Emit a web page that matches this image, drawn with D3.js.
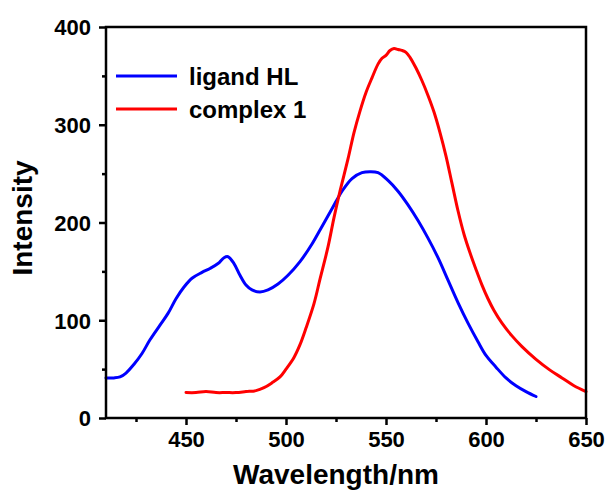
<!DOCTYPE html>
<html>
<head>
<meta charset="utf-8">
<script src="https://cdn.jsdelivr.net/npm/d3@7"></script>
<style>
  html, body { margin: 0; padding: 0; background: #fff; }
  svg { display: block; font-family: "Liberation Sans", Arial, sans-serif; font-weight: bold; }
</style>
</head>
<body>
<svg id="chart" width="609" height="491"></svg>
<script>
// Emission spectra: ligand HL and complex 1
const hlWavelength = [410, 414, 417, 420, 424, 428, 432, 437, 441, 445, 449, 453, 458, 462, 466, 469, 471, 474, 477, 480, 483, 487, 491, 496, 501, 507, 513, 518, 523, 528, 533, 538, 542, 546, 551, 556, 561, 566, 571, 576, 581, 586, 591, 596, 600, 605, 610, 615, 620, 625];
const hlIntensity  = [41, 41, 42, 46, 55, 66, 80, 95, 107, 122, 134, 143, 149, 153, 158, 164, 165, 158, 146, 136, 131, 129, 131, 137, 146, 160, 178, 196, 214, 232, 245, 251, 252, 251, 243, 232, 218, 202, 184, 164, 141, 118, 97, 78, 64, 52, 41, 33, 27, 22];

const c1Wavelength = [450, 455, 460, 465, 470, 475, 480, 485, 489, 493, 497, 500, 504, 507, 510, 514, 517, 521, 524, 527, 531, 534, 537, 540, 543, 546, 548, 550, 552, 554, 556, 558, 560, 562, 565, 568, 571, 574, 577, 580, 583, 586, 589, 592, 595, 598, 601, 604, 608, 613, 618, 625, 632, 638, 644, 650];
const c1Intensity  = [26, 26, 27, 26, 26, 26, 27, 28, 31, 36, 42, 50, 62, 75, 92, 117, 142, 175, 205, 232, 265, 292, 314, 333, 348, 362, 368, 371, 376, 378, 377, 376, 374, 369, 358, 345, 330, 313, 292, 268, 240, 212, 188, 169, 152, 136, 122, 110, 97, 84, 73, 60, 49, 41, 33, 27];

const xMajorTicks = [450, 500, 550, 600, 650];
const xMinorTicks = [425, 475, 525, 575, 625];
const yMajorTicks = [0, 100, 200, 300, 400];
const yMinorTicks = [50, 150, 250, 350];

const seriesNames = ["ligand HL", "complex 1"];
const seriesColors = ["#0000ff", "#ff0000"];

const svg = d3.select("#chart");
const plot = { left: 106, right: 586, top: 27, bottom: 418 };

const x = d3.scaleLinear().domain([410, 650]).range([plot.left, plot.right]);
const y = d3.scaleLinear().domain([0, 400]).range([plot.bottom, plot.top]);

const series = [
  { name: seriesNames[0], color: seriesColors[0], pts: hlWavelength.map((w, i) => [w, hlIntensity[i]]) },
  { name: seriesNames[1], color: seriesColors[1], pts: c1Wavelength.map((w, i) => [w, c1Intensity[i]]) }
];

const line = d3.line()
  .x(d => x(d[0]))
  .y(d => y(d[1]))
  .curve(d3.curveCatmullRom.alpha(0.5));

// curves
svg.append("g").selectAll("path")
  .data(series)
  .join("path")
  .attr("d", d => line(d.pts))
  .attr("fill", "none")
  .attr("stroke", d => d.color)
  .attr("stroke-width", 3)
  .attr("stroke-linejoin", "round")
  .attr("stroke-linecap", "round");

// axes
const xAxis = svg.append("g")
  .attr("transform", `translate(0,${plot.bottom})`)
  .call(d3.axisBottom(x).tickValues(xMajorTicks).tickSize(7).tickSizeOuter(0).tickPadding(6).tickFormat(d3.format("d")));
const xMinor = svg.append("g")
  .attr("transform", `translate(0,${plot.bottom})`)
  .call(d3.axisBottom(x).tickValues(xMinorTicks).tickSize(4).tickSizeOuter(0).tickFormat(""));
const yAxis = svg.append("g")
  .attr("transform", `translate(${plot.left},0)`)
  .call(d3.axisLeft(y).tickValues(yMajorTicks).tickSize(7).tickSizeOuter(0).tickPadding(8).tickFormat(d3.format("d")));
const yMinor = svg.append("g")
  .attr("transform", `translate(${plot.left},0)`)
  .call(d3.axisLeft(y).tickValues(yMinorTicks).tickSize(4).tickSizeOuter(0).tickFormat(""));

[xAxis, xMinor, yAxis, yMinor].forEach(g => {
  g.select(".domain").remove();
  g.selectAll(".tick line").attr("stroke", "#000").attr("stroke-width", 2.5);
  g.selectAll(".tick text")
    .attr("fill", "#000")
    .style("font-family", "'Liberation Sans', Arial, sans-serif")
    .style("font-weight", "bold")
    .style("font-size", "22px");
});
yAxis.selectAll(".tick text").attr("dy", "0.36em");

// frame
svg.append("rect")
  .attr("x", plot.left)
  .attr("y", plot.top)
  .attr("width", plot.right - plot.left)
  .attr("height", plot.bottom - plot.top)
  .attr("fill", "none")
  .attr("stroke", "#000")
  .attr("stroke-width", 2.5);

// axis titles
svg.append("text")
  .attr("x", 336)
  .attr("y", 484)
  .attr("text-anchor", "middle")
  .style("font-size", "28px")
  .text("Wavelength/nm");

svg.append("text")
  .attr("transform", `translate(32,218) rotate(-90)`)
  .attr("text-anchor", "middle")
  .style("font-size", "28px")
  .text("Intensity");

// legend
const legendY = [76, 109];
const legend = svg.append("g").selectAll("g")
  .data(series)
  .join("g")
  .attr("transform", (d, i) => `translate(116,${legendY[i]})`);
legend.append("line")
  .attr("x1", 0).attr("x2", 61)
  .attr("y1", 0).attr("y2", 0)
  .attr("stroke", d => d.color)
  .attr("stroke-width", 3);
legend.append("text")
  .attr("x", 73)
  .attr("y", 9)
  .style("font-size", "24px")
  .text(d => d.name);
</script>
</body>
</html>
